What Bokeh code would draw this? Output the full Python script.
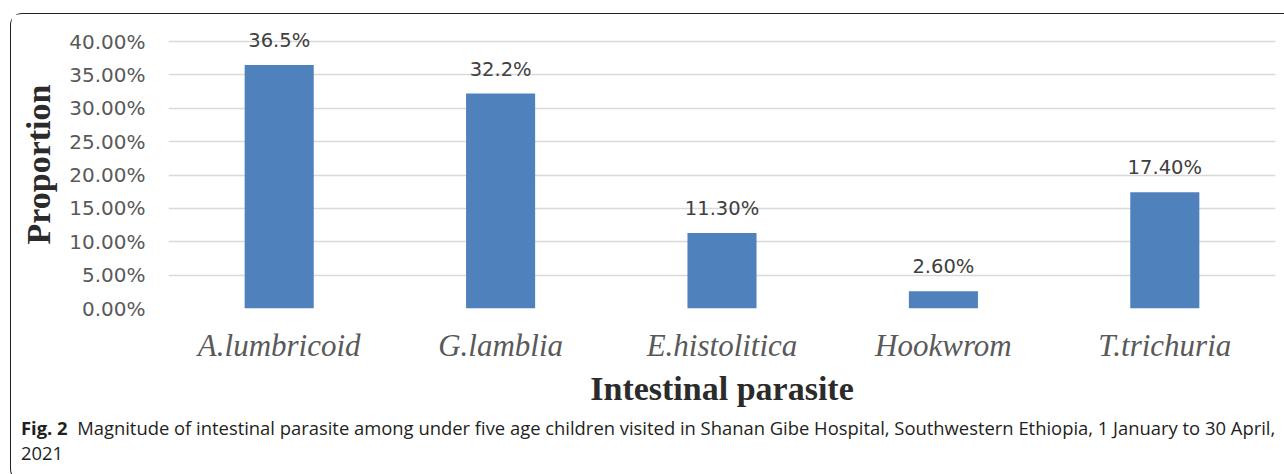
from bokeh.plotting import figure
from bokeh.layouts import column
from bokeh.models import (FactorRange, Range1d, SingleIntervalTicker, PrintfTickFormatter,
                          ColumnDataSource, Div)
from bokeh.core.properties import value
from bokeh.embed import file_html
from bokeh.resources import INLINE

categories = ["A.lumbricoid", "G.lamblia", "E.histolitica", "Hookwrom", "T.trichuria"]
proportions = [36.5, 32.2, 11.3, 2.6, 17.4]
value_labels = ["36.5%", "32.2%", "11.30%", "2.60%", "17.40%"]

y_title = "Proportion"
x_title = "Intestinal parasite"
caption_bold = "Fig. 2"
caption_line1 = "Magnitude of intestinal parasite among under five age children visited in Shanan Gibe Hospital, Southwestern Ethiopia, 1 January to 30 April,"
caption_line2 = "2021"

src = ColumnDataSource(dict(cat=categories, val=proportions, lab=value_labels))

p = figure(width=1272, height=396, output_backend="svg", toolbar_location=None,
           x_range=FactorRange(factors=categories, range_padding=0),
           y_range=Range1d(0, 43.15),
           min_border_left=157, min_border_right=8, min_border_top=6, min_border_bottom=102)
p.outline_line_color = None
p.background_fill_color = "white"
p.border_fill_color = "white"

p.vbar(x="cat", top="val", width=0.312, source=src, fill_color="#4F81BD", line_color=None)
p.text(x="cat", y="val", text="lab", source=src, text_align="center", text_baseline="bottom",
       y_offset=-13, text_font=value("DejaVu Sans"), text_font_size="19.5px", text_color="#404040")

# y axis
p.yaxis.ticker = SingleIntervalTicker(interval=5)
p.yaxis.formatter = PrintfTickFormatter(format="%.2f%%")
p.yaxis.axis_line_color = None
p.yaxis.major_tick_line_color = None
p.yaxis.minor_tick_line_color = None
p.yaxis.major_tick_out = 0
p.yaxis.major_label_standoff = 19
p.yaxis.major_label_text_font = "DejaVu Sans"
p.yaxis.major_label_text_font_size = "20px"
p.yaxis.major_label_text_color = "#595959"
p.yaxis.axis_label = y_title
p.yaxis.axis_label_text_font = "Liberation Serif"
p.yaxis.axis_label_text_font_style = "bold"
p.yaxis.axis_label_text_font_size = "34px"
p.yaxis.axis_label_text_color = "#2b2b2b"
p.yaxis.axis_label_standoff = 9

# x axis
p.xaxis.axis_line_color = None
p.xaxis.major_tick_line_color = None
p.xaxis.minor_tick_line_color = None
p.xaxis.major_tick_out = 0
p.xaxis.major_label_standoff = 19
p.xaxis.major_label_text_font = "Liberation Serif"
p.xaxis.major_label_text_font_style = "italic"
p.xaxis.major_label_text_font_size = "31px"
p.xaxis.major_label_text_color = "#595959"
p.xaxis.axis_label = x_title
p.xaxis.axis_label_text_font = "Liberation Serif"
p.xaxis.axis_label_text_font_style = "bold"
p.xaxis.axis_label_text_font_size = "34px"
p.xaxis.axis_label_text_color = "#2b2b2b"
p.xaxis.axis_label_standoff = 4

p.xgrid.grid_line_color = None
p.ygrid.grid_line_color = "#D9D9D9"
p.ygrid.grid_line_width = 1.5

caption = Div(
    text=f"<b>{caption_bold}</b>&nbsp;&nbsp;{caption_line1}<br>{caption_line2}",
    width=1270, height=60,
    styles={"font-family": "'Open Sans'", "font-size": "18.4px", "color": "#231f20",
            "line-height": "25px", "white-space": "nowrap", "padding-left": "5px",
            "overflow": "hidden"})

layout = column(p, caption, spacing=0, margin=(13, 0, 0, 10),
                styles={"border-top": "1.5px solid #231f20", "border-left": "1.5px solid #231f20",
                        "border-bottom": "1.5px solid #231f20",
                        "border-top-left-radius": "12px", "border-bottom-left-radius": "12px"})

open("out.html", "w").write(file_html(layout, INLINE))
